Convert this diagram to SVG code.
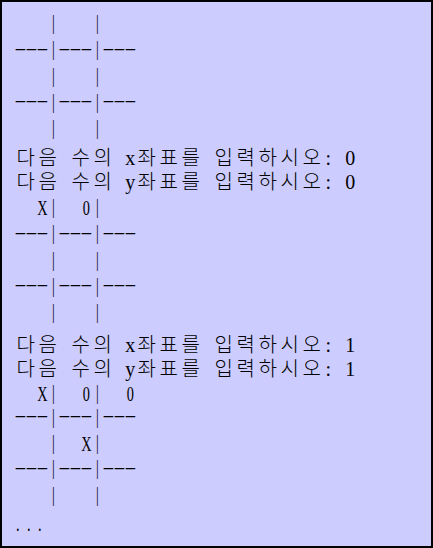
<svg xmlns="http://www.w3.org/2000/svg" width="433" height="548" viewBox="0 0 433 548">
<style>
.bg{fill:#ccccff;stroke:#000;stroke-width:2}
.t{font-family:"Liberation Serif","DejaVu Serif",serif;font-size:22px;fill:#000;white-space:pre;text-anchor:middle}
.t .p{font-size:21px}
.h{font-family:"Liberation Serif","DejaVu Serif",serif;font-size:16px;fill:#000;white-space:pre;text-anchor:middle}
.k{font-family:"Noto Sans CJK KR","Noto Sans",sans-serif;font-size:20px;font-weight:300;fill:#000;white-space:pre;text-anchor:middle}
.k .l{font-family:"Liberation Serif",serif;font-size:20px;font-weight:400}
</style>
<rect class="bg" x="1" y="1" width="431" height="546"/>
<g id="console">
<g id="l0"><text class="t" transform="scale(0.65 1)" y="31.3"><tspan x="31.23 48.15 65.08">   </tspan><tspan class="p" x="82" y="29.1">|</tspan><tspan x="98.92 115.85 132.77" y="31.3">   </tspan><tspan class="p" x="149.69" y="29.1">|</tspan></text></g>
<g id="l1"><text class="h" transform="scale(2.3 1)" y="54"><tspan x="8.826 13.609 18.391">---</tspan><tspan x="27.957 32.739 37.522">---</tspan><tspan x="47.087 51.870 56.652">---</tspan></text><text class="t" transform="scale(0.65 1)" y="55.4"><tspan class="p" x="82">|</tspan><tspan class="p" x="149.69">|</tspan></text></g>
<g id="l2"><text class="t" transform="scale(0.65 1)" y="83.9"><tspan x="31.23 48.15 65.08">   </tspan><tspan class="p" x="82" y="81.7">|</tspan><tspan x="98.92 115.85 132.77" y="83.9">   </tspan><tspan class="p" x="149.69" y="81.7">|</tspan></text></g>
<g id="l3"><text class="h" transform="scale(2.3 1)" y="106.5"><tspan x="8.826 13.609 18.391">---</tspan><tspan x="27.957 32.739 37.522">---</tspan><tspan x="47.087 51.870 56.652">---</tspan></text><text class="t" transform="scale(0.65 1)" y="107.9"><tspan class="p" x="82">|</tspan><tspan class="p" x="149.69">|</tspan></text></g>
<g id="l4"><text class="t" transform="scale(0.65 1)" y="136.4"><tspan x="31.23 48.15 65.08">   </tspan><tspan class="p" x="82" y="134.2">|</tspan><tspan x="98.92 115.85 132.77" y="136.4">   </tspan><tspan class="p" x="149.69" y="134.2">|</tspan></text></g>
<g id="l5"><text class="k" y="165"><tspan x="25.8 47.8 64.3 80.8 102.8 119.3">다음 수의 </tspan><tspan class="l" x="130.3">x</tspan><tspan x="146.8 168.8 190.8 207.3 223.8 245.8 267.8 289.8 311.8">좌표를 입력하시오</tspan><tspan class="l" x="328.3 339.3 350.3">: 0</tspan></text></g>
<g id="l6"><text class="k" y="189"><tspan x="25.8 47.8 64.3 80.8 102.8 119.3">다음 수의 </tspan><tspan class="l" x="130.3">y</tspan><tspan x="146.8 168.8 190.8 207.3 223.8 245.8 267.8 289.8 311.8">좌표를 입력하시오</tspan><tspan class="l" x="328.3 339.3 350.3">: 0</tspan></text></g>
<g id="l7"><text class="t" transform="scale(0.65 1)" y="215.3"><tspan x="31.23 48.15 65.08">  X</tspan><tspan class="p" x="82" y="213.1">|</tspan><tspan x="98.92 115.85 132.77" y="215.3">  0</tspan><tspan class="p" x="149.69" y="213.1">|</tspan></text></g>
<g id="l8"><text class="h" transform="scale(2.3 1)" y="237.9"><tspan x="8.826 13.609 18.391">---</tspan><tspan x="27.957 32.739 37.522">---</tspan><tspan x="47.087 51.870 56.652">---</tspan></text><text class="t" transform="scale(0.65 1)" y="239.3"><tspan class="p" x="82">|</tspan><tspan class="p" x="149.69">|</tspan></text></g>
<g id="l9"><text class="t" transform="scale(0.65 1)" y="267.8"><tspan x="31.23 48.15 65.08">   </tspan><tspan class="p" x="82" y="265.6">|</tspan><tspan x="98.92 115.85 132.77" y="267.8">   </tspan><tspan class="p" x="149.69" y="265.6">|</tspan></text></g>
<g id="l10"><text class="h" transform="scale(2.3 1)" y="290.4"><tspan x="8.826 13.609 18.391">---</tspan><tspan x="27.957 32.739 37.522">---</tspan><tspan x="47.087 51.870 56.652">---</tspan></text><text class="t" transform="scale(0.65 1)" y="291.8"><tspan class="p" x="82">|</tspan><tspan class="p" x="149.69">|</tspan></text></g>
<g id="l11"><text class="t" transform="scale(0.65 1)" y="320.3"><tspan x="31.23 48.15 65.08">   </tspan><tspan class="p" x="82" y="318.1">|</tspan><tspan x="98.92 115.85 132.77" y="320.3">   </tspan><tspan class="p" x="149.69" y="318.1">|</tspan></text></g>
<g id="l12"><text class="k" y="351.5"><tspan x="25.8 47.8 64.3 80.8 102.8 119.3">다음 수의 </tspan><tspan class="l" x="130.3">x</tspan><tspan x="146.8 168.8 190.8 207.3 223.8 245.8 267.8 289.8 311.8">좌표를 입력하시오</tspan><tspan class="l" x="328.3 339.3 350.3">: 1</tspan></text></g>
<g id="l13"><text class="k" y="375.8"><tspan x="25.8 47.8 64.3 80.8 102.8 119.3">다음 수의 </tspan><tspan class="l" x="130.3">y</tspan><tspan x="146.8 168.8 190.8 207.3 223.8 245.8 267.8 289.8 311.8">좌표를 입력하시오</tspan><tspan class="l" x="328.3 339.3 350.3">: 1</tspan></text></g>
<g id="l14"><text class="t" transform="scale(0.65 1)" y="401"><tspan x="31.23 48.15 65.08">  X</tspan><tspan class="p" x="82" y="398.8">|</tspan><tspan x="98.92 115.85 132.77" y="401">  0</tspan><tspan class="p" x="149.69" y="398.8">|</tspan><tspan x="166.62 183.54 200.46" y="401">  0</tspan></text></g>
<g id="l15"><text class="h" transform="scale(2.3 1)" y="421.4"><tspan x="8.826 13.609 18.391">---</tspan><tspan x="27.957 32.739 37.522">---</tspan><tspan x="47.087 51.870 56.652">---</tspan></text><text class="t" transform="scale(0.65 1)" y="422.8"><tspan class="p" x="82">|</tspan><tspan class="p" x="149.69">|</tspan></text></g>
<g id="l16"><text class="t" transform="scale(0.65 1)" y="451.5"><tspan x="31.23 48.15 65.08">   </tspan><tspan class="p" x="82" y="449.3">|</tspan><tspan x="98.92 115.85 132.77" y="451.5">  X</tspan><tspan class="p" x="149.69" y="449.3">|</tspan></text></g>
<g id="l17"><text class="h" transform="scale(2.3 1)" y="472.9"><tspan x="8.826 13.609 18.391">---</tspan><tspan x="27.957 32.739 37.522">---</tspan><tspan x="47.087 51.870 56.652">---</tspan></text><text class="t" transform="scale(0.65 1)" y="474.3"><tspan class="p" x="82">|</tspan><tspan class="p" x="149.69">|</tspan></text></g>
<g id="l18"><text class="t" transform="scale(0.65 1)" y="503.3"><tspan x="31.23 48.15 65.08">   </tspan><tspan class="p" x="82" y="501.1">|</tspan><tspan x="98.92 115.85 132.77" y="503.3">   </tspan><tspan class="p" x="149.69" y="501.1">|</tspan></text></g>
<g id="l19"><text class="t" transform="scale(0.65 1)" y="531"><tspan x="27.38 44.31 61.23">...</tspan></text></g>
</g>
</svg>
